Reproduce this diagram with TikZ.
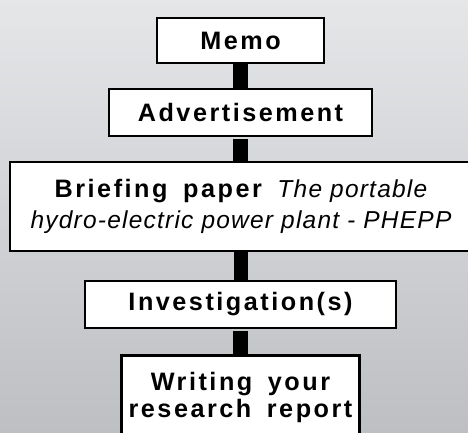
\documentclass[tikz,border=0pt]{standalone}
\usepackage{fontspec}
\setmainfont{Liberation Sans}
\newfontfamily\labelfont[LetterSpace=10]{Liberation Sans}
\newfontfamily\notefont[LetterSpace=5]{Liberation Sans}
\newcommand{\gap}{\hspace{0.62em}}
\begin{document}
\begin{tikzpicture}[x=1pt,y=-1pt,
  stagebox/.style={draw=black,line width=2.6pt,fill=white,inner sep=0pt,
    align=center,font=\labelfont\bfseries\fontsize{25.2}{27}\selectfont},
  link/.style={fill=black}]
  \useasboundingbox (0,0) rectangle (468,432);
  \clip (0,0) rectangle (468,432);
  % backdrop
  \shade[top color={rgb,255:red,229;green,230;blue,232},
         bottom color={rgb,255:red,189;green,191;blue,195}]
    (0,0) rectangle (468,432);
  % stages
  \node[stagebox,minimum width=167pt,minimum height=45pt] (memo) at (240.5,40.5) {Memo};
  \node[stagebox,minimum width=263pt,minimum height=47pt] (advert) at (240.5,112.5) {Advertisement};
  \node[stagebox,minimum width=462pt,minimum height=89pt] (brief) at (241,206.5)
    {Briefing\gap paper\gap{\notefont\mdseries\itshape\fontsize{24.5}{27}\selectfont The portable}\\[4pt]
     {\notefont\mdseries\itshape\fontsize{24.5}{27}\selectfont hydro-electric power plant - PHEPP}};
  \node[stagebox,minimum width=311pt,minimum height=47pt] (invest) at (240.5,304.5) {Investigation(s)};
  \node[stagebox,minimum width=238pt,minimum height=84pt,anchor=north] (report) at (240.5,354)
    {Writing\gap your\\research\gap report};
  % square links between stages
  \path[link] ([xshift=-7.5pt]memo.south) rectangle ([xshift=7.5pt]advert.north);
  \path[link] ([xshift=-7.5pt,yshift=-2pt]advert.south) rectangle ([xshift=7pt]brief.north);
  \path[link] ([xshift=-7.5pt]brief.south) rectangle ([xshift=7pt]invest.north);
  \path[link] ([xshift=-7.5pt,yshift=-2pt]invest.south) rectangle ([xshift=7.5pt]report.north);
\end{tikzpicture}
\end{document}
